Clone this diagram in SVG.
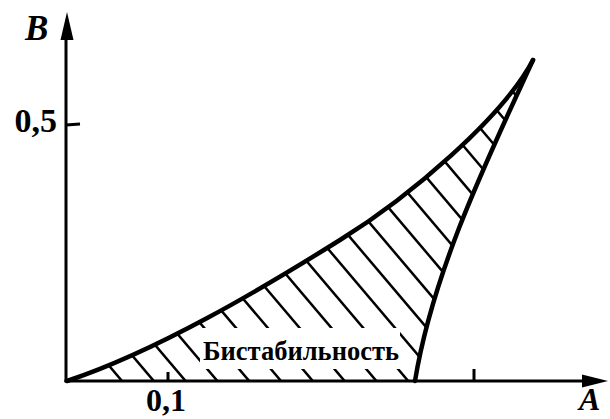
<svg xmlns="http://www.w3.org/2000/svg" width="610" height="419" viewBox="0 0 610 419">
<style>
.ax{stroke:#000;stroke-width:3;fill:none}
.cv{stroke:#000;stroke-width:4.5;fill:none;stroke-linejoin:round;stroke-linecap:round}
.h{stroke:#000;stroke-width:2.5}
.t{font-family:"Liberation Serif","Times New Roman",serif;font-weight:bold;fill:#000}
.it{font-style:italic}
</style>
<defs>
<clipPath id="reg">
<path d="M67,381 C157,351 260,290 340,240 C410,196.6 503,117 533,60 C487,160 433,271 415,381 Z"/>
</clipPath>
</defs>
<rect width="610" height="419" fill="#fff"/>
<g id="hatch" clip-path="url(#reg)">
<line class="h" x1="132" y1="392.8" x2="-278" y2="-91"/>
<line class="h" x1="163.8" y1="392.8" x2="-246.2" y2="-91"/>
<line class="h" x1="195.6" y1="392.8" x2="-214.4" y2="-91"/>
<line class="h" x1="227.4" y1="392.8" x2="-182.6" y2="-91"/>
<line class="h" x1="259.2" y1="392.8" x2="-150.8" y2="-91"/>
<line class="h" x1="291" y1="392.8" x2="-119" y2="-91"/>
<line class="h" x1="322.8" y1="392.8" x2="-87.2" y2="-91"/>
<line class="h" x1="354.6" y1="392.8" x2="-55.4" y2="-91"/>
<line class="h" x1="386.4" y1="392.8" x2="-23.6" y2="-91"/>
<line class="h" x1="418.2" y1="392.8" x2="8.2" y2="-91"/>
<line class="h" x1="450" y1="392.8" x2="40" y2="-91"/>
<line class="h" x1="481.8" y1="392.8" x2="71.8" y2="-91"/>
<line class="h" x1="513.6" y1="392.8" x2="103.6" y2="-91"/>
<line class="h" x1="545.4" y1="392.8" x2="135.4" y2="-91"/>
<line class="h" x1="577.2" y1="392.8" x2="167.2" y2="-91"/>
<line class="h" x1="609" y1="392.8" x2="199" y2="-91"/>
<line class="h" x1="640.8" y1="392.8" x2="230.8" y2="-91"/>
<line class="h" x1="672.6" y1="392.8" x2="262.6" y2="-91"/>
<line class="h" x1="704.4" y1="392.8" x2="294.4" y2="-91"/>
<line class="h" x1="736.2" y1="392.8" x2="326.2" y2="-91"/>
<line class="h" x1="768" y1="392.8" x2="358" y2="-91"/>
<line class="h" x1="799.8" y1="392.8" x2="389.8" y2="-91"/>
</g>
<rect x="200" y="328" width="200" height="41" fill="#fff"/>
<g id="axes">
<line class="ax" x1="66" y1="382" x2="66" y2="36"/>
<polygon points="67,12 60.5,40 73.5,40" fill="#000"/>
<line class="ax" x1="64.5" y1="381" x2="586" y2="381"/>
<polygon points="608,381 582,374.5 582,387.5" fill="#000"/>
<line class="ax" x1="66" y1="125" x2="80" y2="124"/>
<line class="ax" x1="168" y1="381" x2="168" y2="372"/>
<line class="ax" x1="474" y1="381" x2="474" y2="369"/>
</g>
<g id="curves">
<path class="cv" d="M67,381 C157,351 260,290 340,240 C410,196.6 503,117 533,60"/>
<path class="cv" d="M533,60 C487,160 433,271 415,381"/>
</g>
<g id="labels">
<text class="t it" x="25" y="40" font-size="35">B</text>
<text class="t" x="57" y="132" font-size="34" text-anchor="end">0,5</text>
<text class="t" x="166" y="411" font-size="32" text-anchor="middle">0,1</text>
<text class="t it" x="579" y="410" font-size="32">A</text>
<text class="t" x="203" y="360" font-size="28" textLength="196" lengthAdjust="spacingAndGlyphs">Бистабильность</text>
</g>
</svg>
